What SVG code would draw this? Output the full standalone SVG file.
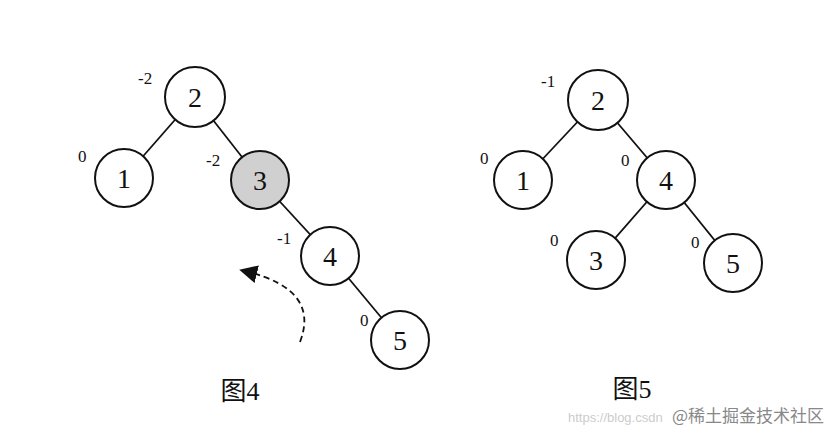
<svg xmlns="http://www.w3.org/2000/svg" width="829" height="434" viewBox="0 0 829 434">
<style>
.n{fill:#fff;stroke:#111;stroke-width:2}
.g{fill:#d0d0d0}
.t{font-family:"Liberation Serif",serif;font-size:28px;text-anchor:middle;fill:#111}
.b{font-family:"Liberation Serif",serif;font-size:17px;fill:#111}
.c{font-family:"Liberation Serif","Noto Sans CJK SC",serif;font-size:26px;text-anchor:middle;fill:#111}
line{stroke:#111;stroke-width:1.8}
</style>
<defs><marker id="ah" markerWidth="10" markerHeight="10" refX="5" refY="5" orient="auto"><path d="M0,0 L10,5 L0,10 z" fill="#111"/></marker></defs>
<rect width="829" height="434" fill="#fff"/>
<g id="connectors">
<line x1="195" y1="97" x2="124" y2="178"/><line x1="195" y1="97" x2="260" y2="180"/>
<line x1="260" y1="180" x2="330" y2="256"/><line x1="330" y1="256" x2="400" y2="340"/>
<path d="M300,342 Q320,290 248,272" fill="none" stroke="#111" stroke-width="1.8" stroke-dasharray="6,4" marker-end="url(#ah)"/>
<line x1="598" y1="100" x2="523" y2="180"/><line x1="598" y1="100" x2="666" y2="180"/>
<line x1="666" y1="180" x2="596" y2="260"/><line x1="666" y1="180" x2="733" y2="263"/>
</g>
<g id="L2"><circle class="n" cx="195" cy="97" r="30"/><text class="t" x="195" y="107">2</text><text class="b" x="138" y="84">-2</text></g>
<g id="L1"><circle class="n" cx="124" cy="178" r="29"/><text class="t" x="124" y="188">1</text><text class="b" x="78" y="162">0</text></g>
<g id="L3"><circle class="n g" cx="260" cy="180" r="29"/><text class="t" x="260" y="190">3</text><text class="b" x="206" y="166">-2</text></g>
<g id="L4"><circle class="n" cx="330" cy="256" r="29"/><text class="t" x="330" y="266">4</text><text class="b" x="277" y="244">-1</text></g>
<g id="L5"><circle class="n" cx="400" cy="340" r="29"/><text class="t" x="400" y="350">5</text><text class="b" x="360" y="326">0</text></g>
<g id="R2"><circle class="n" cx="598" cy="100" r="30"/><text class="t" x="598" y="110">2</text><text class="b" x="541" y="87">-1</text></g>
<g id="R1"><circle class="n" cx="523" cy="180" r="29"/><text class="t" x="523" y="190">1</text><text class="b" x="480" y="164">0</text></g>
<g id="R4"><circle class="n" cx="666" cy="180" r="29"/><text class="t" x="666" y="190">4</text><text class="b" x="621" y="166">0</text></g>
<g id="R3"><circle class="n" cx="596" cy="260" r="29"/><text class="t" x="596" y="270">3</text><text class="b" x="550" y="246">0</text></g>
<g id="R5"><circle class="n" cx="733" cy="263" r="29"/><text class="t" x="733" y="273">5</text><text class="b" x="691" y="248">0</text></g>
<text class="c" x="240" y="400">图4</text>
<text class="c" x="632" y="398">图5</text>
<text x="568" y="422" font-family="Liberation Sans,sans-serif" font-size="13" fill="#ccc">https://blog.csdn</text>
<text x="672" y="422" font-family="Noto Sans CJK SC,sans-serif" font-size="17" fill="#888">@稀土掘金技术社区</text>
</svg>
